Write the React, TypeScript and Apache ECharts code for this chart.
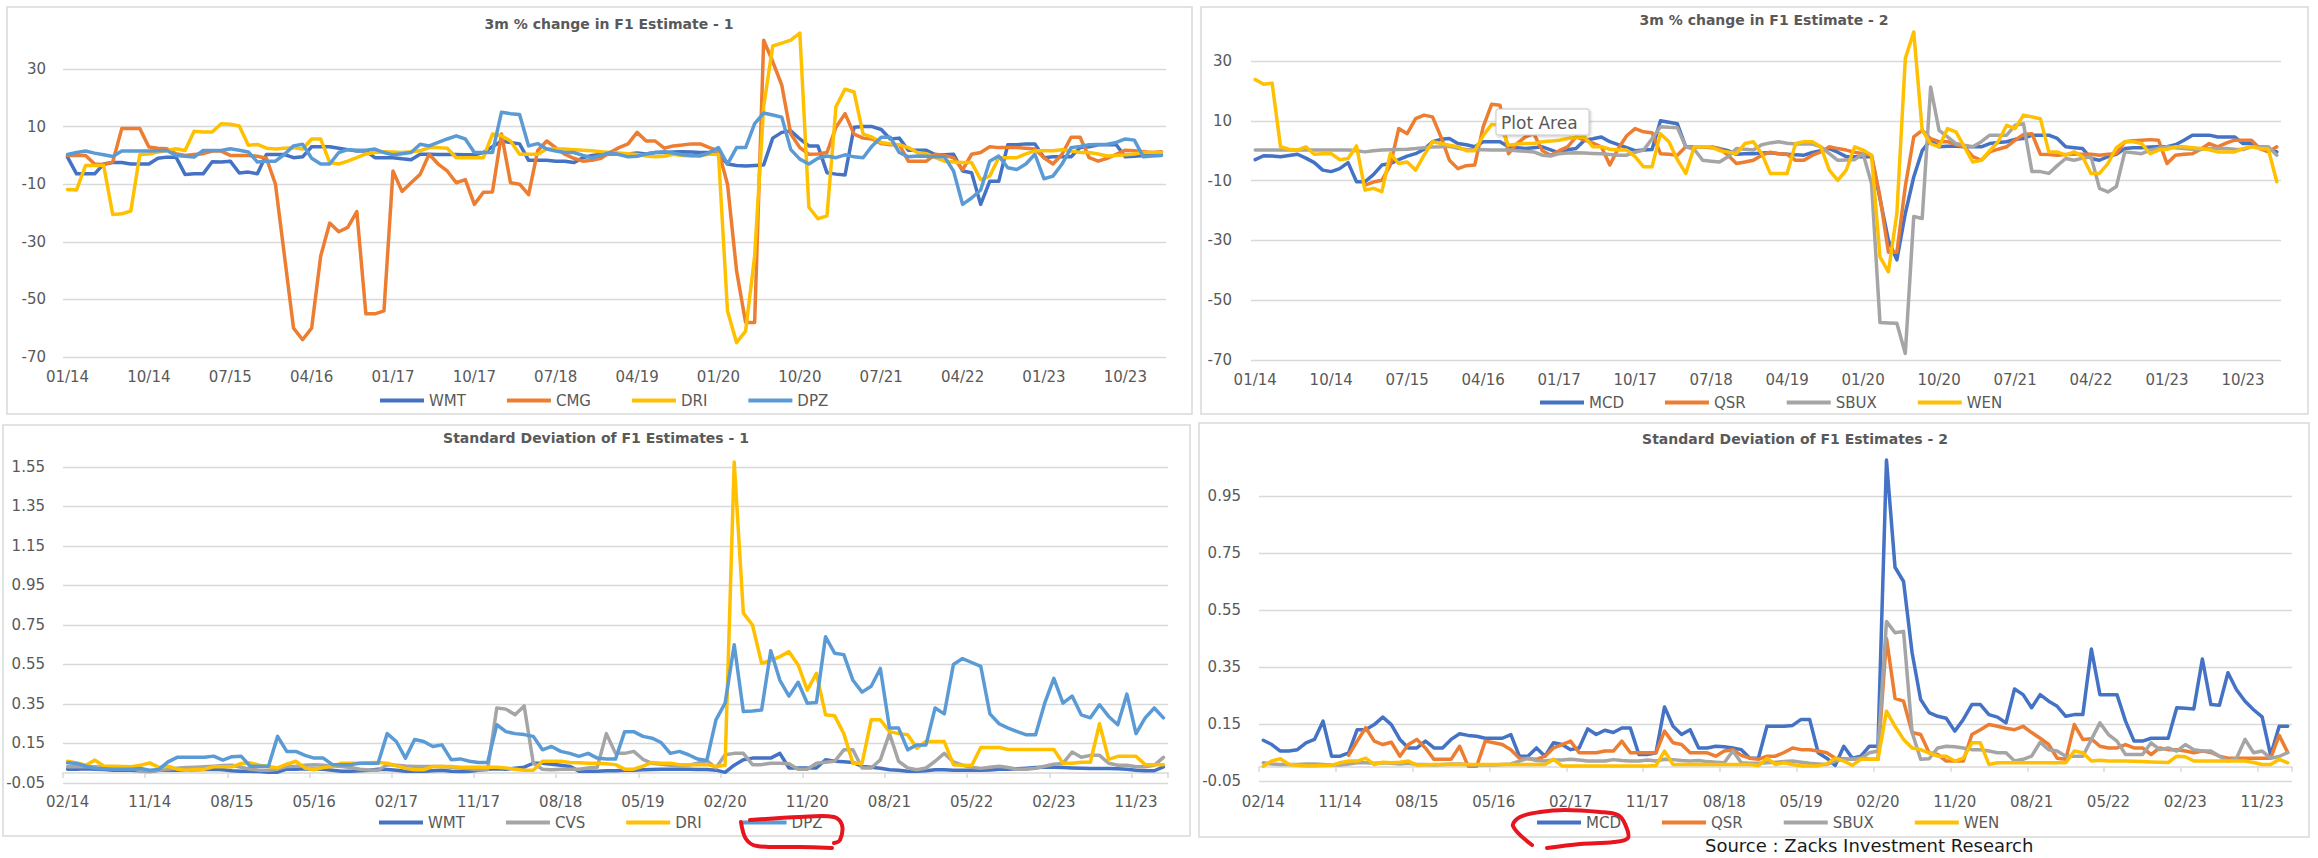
import React, { useEffect, useRef } from "react";
import * as echarts from "echarts";

// ---------- categories ----------
function monthLabels(startYear: number, startMonth: number, count: number): string[] {
  const out: string[] = [];
  for (let k = 0; k < count; k++) {
    const m0 = startMonth - 1 + k;
    const y = startYear + Math.floor(m0 / 12);
    const m = (m0 % 12) + 1;
    out.push(String(m).padStart(2, "0") + "/" + String(y % 100).padStart(2, "0"));
  }
  return out;
}
const monthsTop = monthLabels(2014, 1, 122); // 01/14 .. 02/24
const monthsBottom = monthLabels(2014, 2, 121); // 02/14 .. 02/24

// ---------- axis scales ----------
const changeTicks = [-70, -50, -30, -10, 10, 30];
const sdTicks = [-0.05, 0.15, 0.35, 0.55, 0.75, 0.95, 1.15, 1.35, 1.55];

// ---------- titles / legends ----------
const titles = [
  "3m % change in F1 Estimate - 1",
  "3m % change in F1 Estimate - 2",
  "Standard Deviation of F1 Estimates - 1",
  "Standard Deviation of F1 Estimates - 2",
];
const legend1 = ["WMT", "CMG", "DRI", "DPZ"];
const legend2 = ["MCD", "QSR", "SBUX", "WEN"];
const legend3 = ["WMT", "CVS", "DRI", "DPZ"];
const legend4 = ["MCD", "QSR", "SBUX", "WEN"];

// ---------- panel 1 : 3m % change (01/14 .. 02/24) ----------
const wmt1 = [-0.6,-6.4,-6.4,-6.4,-3,-2.5,-2.5,-3,-3,-3,-1,-0.6,-0.6,-6.6,-6.4,-6.4,-2.2,-2.3,-2,-6.1,-5.8,-6.4,
  0.3,0.3,0.3,-0.8,-0.5,3,3,3,2.5,2,1.5,1.5,-0.8,-0.8,-0.8,-1.2,-1.5,0.4,0.4,0.3,0.3,0.3,0.2,0.2,
  1,3,5,4.5,4,-1.7,-1.7,-1.7,-2,-2,-2.5,-0.8,0,0.3,0.5,0.5,0.5,0.8,0.5,1,1,1.2,1.3,1.2,1,1,0.5,
  -3,-3.5,-3.7,-3.5,-3.3,6,8,8.5,5.7,3.3,3.3,-6,-6.5,-6.8,9.8,10,10,9,5.7,6,1.8,1.8,1.8,0.2,0.2,0.4,
  -5.4,-6,-17,-9,-9,3.7,3.7,4,4,-0.8,-0.5,-0.5,-0.5,2.7,3,3.7,3.7,3.7,-0.5,-0.3,0,0.4,0.4];
const cmg1 = [0,0,0,-3,-3.2,-2.3,9.3,9.3,9.3,2.9,2.5,2.3,0.6,0,0.3,0.6,1.5,1.5,0,0,
  0,-0.3,-1,-10,-35,-60,-64,-60,-35,-23.5,-26.5,-25,-19.5,-55,-55,-54,-5.4,-12.5,-9.5,-6.6,
  0.4,-3,-5.4,-9.5,-8.4,-17,-12.8,-12.7,7.4,-9.5,-10,-13.6,1.6,5,2.7,0.4,-1,-2,-1.7,-1,
  1,2.7,4,8,5,5,2.5,3.3,3.6,4,4,2.7,1.6,-10,-40,-58,-58,40,32.6,24.4,
  7.4,2.7,0.4,0.5,1,9.8,14.5,7.4,6,5.7,4.1,3.7,3.7,-2,-2,-2,0.4,0,-0.8,-5,
  0.4,1,3,2.7,2.7,2.7,2.5,2.2,-0.8,-3,0.4,6.3,6.3,-0.8,-2,-1,0.4,1.8,1.6,1.3,
  1,1.3];
const dri1 = [-11.8,-12,-3.5,-3.5,-3.5,-20.5,-20.3,-19.3,0.3,0.5,1.2,1.7,2.3,1.7,8.4,8.1,8.1,11,10.8,10.2,
  3.5,3.8,2.5,2.2,2.5,2.7,2.2,5.7,5.7,-2.5,-3,-2,-0.8,0.5,1,1.3,1.2,1,1.3,1.6,
  2.7,2.7,2.5,-0.8,-0.8,-0.8,-0.8,7.4,6.8,5,0.4,0.4,0.4,2.2,2.2,2.2,2,1.8,1.6,1.3,
  1,0.8,0.6,0.3,-0.2,-0.5,-0.3,0.4,0,-0.2,0,0.4,0.4,-54,-65,-61,-35,17,38,39,
  40,42.5,-18,-22,-21,17,23,22,7.4,6.3,4.5,4,3.7,2.7,1,0.6,-0.8,-2,-2.3,-2.5,
  -2.5,-8.4,-7.2,-0.8,-0.8,-0.8,0.5,1.6,1.6,1.6,2,1.5,1,1,0.5,-0.2,0,0.2,0.5,1,
  1,1];
const dpz1 = [0.3,1,1.5,0.8,0.2,-0.4,1.5,1.5,1.5,1.5,1.6,1.7,0,-0.3,-0.6,1.7,1.7,1.7,2.3,1.8,
  1.2,-2.3,-2,-2,0.4,3.3,3.9,-1,-3,-3,1,2,1.8,1.8,2.2,1,0.2,0.6,1,3.9,
  3.3,4.5,5.7,6.8,5.7,1,1,1,15,14.5,14.2,3.3,4.1,2.2,1.5,1,1,0,-0.8,0,
  1,0.3,-0.5,-0.3,0.5,1,1.3,0.8,0.2,0,-0.2,1,2.7,-3,2.7,2.7,11,14.7,14,13.3,
  2,-1.3,-3,-1,-0.2,-0.8,0.2,-0.5,-0.8,3.3,6.3,6.3,1,-0.5,-0.2,-0.3,-0.5,-0.5,-5.4,-17,
  -14.8,-12,-2,-0.2,-4.3,-4.9,-3,0.4,-8.1,-7.2,-3,2.7,3.1,3.7,3.8,3.9,4.5,5.7,5.3,-0.5,
  -0.2,0];

// ---------- panel 2 : 3m % change (01/14 .. 02/24) ----------
const mcd2 = [-3,-1.7,-1.8,-2,-1.6,-1.2,-2.5,-4,-6.5,-7,
  -6,-4,-10.4,-10.4,-8,-4.8,-4.3,-3,-1.8,-1,
  0.5,3,3.8,4.1,2.4,2,1.3,3,3,3,
  1.3,1,0.7,1,1.3,0.3,-0.7,0.3,0.7,3.5,
  4,4.6,3,2,1,0,0.2,0.4,10,9.5,
  9,1.3,1.3,1.3,1.3,0.7,0,-1.2,-1,-1,
  -0.8,-0.7,-1,-1.2,-1.4,-1.5,-0.6,0,0.7,-0.5,
  -2,-2,-2,-2,-16,-30,-36.5,-21,-8.8,0,
  3.5,1.3,1.5,1.5,1.3,1.3,1.3,2.4,2.7,3,
  3.8,4.1,5.2,5.2,5.2,4.1,1.3,1,0.7,-2.6,
  -3.2,-2,-1.2,0.7,1,1,1.2,1.3,1.3,2,
  3.5,5.2,5.2,5.2,4.6,4.6,4.6,2.4,2.4,0.7,
  0.5,-0.4];
const qsr2 = [null,null,null,null,null,null,null,null,null,null,
  null,null,null,-11.5,-10.5,-9.9,-4.8,7.4,5.7,10.7,
  11.9,11.3,4.6,-3.2,-6,-5,-4.8,8,15.5,15.2,
  -1,2.4,4.6,5.7,0,-1.5,0,1.3,4.6,3.5,
  2.5,1.3,-4.8,0.7,5,7.4,6.3,6,-1,-1.2,
  -1.5,1.3,1.3,1.3,1,0.7,-1.5,-4.3,-3.8,-3.2,
  -1.5,-0.5,-1,-1.2,-3.2,-3.2,-1.5,-0.4,1.3,0.7,
  0.2,-0.5,-1,-1.5,-15.4,-34,-34,-12,4.6,6.8,
  4,3,3,2,1.3,-2,-3.2,-0.4,0.5,1.3,
  3.5,5.4,5.7,-1.2,-1.3,-1.5,-1.3,-1.2,-1.2,-1.2,
  -1.5,-1.2,-1,3,3.3,3.5,3.7,3.5,-4.3,-1.5,
  -1.2,-1,0.5,2.4,1.3,2.5,3.5,3.5,3.5,0.7,
  -0.4,1.3];
const sbux2 = [0.2,0.2,0.2,0.2,0.2,0.2,0.2,0.2,0.2,0.2,
  0.2,0.2,0,-0.4,0,0.2,0.3,0.4,0.5,0.7,
  1,1.2,1.3,1.5,0.8,0.4,0.3,0.3,0.2,0.2,
  0.2,0,-0.2,-0.4,-1.5,-1.8,-1,-0.8,-0.7,-0.8,
  -0.9,-1,-1.3,-1.5,-1.5,-0.5,0.2,4,8,7.8,
  7.7,1.3,0.5,-3.2,-3.5,-3.8,-2,0.7,0.5,0.2,
  2,2.6,3,2.5,2.2,2.2,2.2,1.3,-1,-3.2,
  -3.1,-3,-1,-11,-57.5,-57.6,-57.7,-67.8,-22,-22.7,
  21.3,6.8,4.6,2.4,1.8,1.3,3,5.2,5.2,5.2,
  8.5,9,-7,-7,-7.6,-5,-2.6,-3.2,-2.5,-2,
  -12.6,-13.8,-12,-0.4,-0.7,-1,0.2,0.8,1.3,1,
  0.7,0.5,0.4,0.7,0.7,0.7,0.5,0.4,1.3,1.3,
  1.3,-1.5];
const wen2 = [23.8,22.2,22.6,1.3,0.5,0.2,1.3,-1.2,-1,-1,
  -3,-2.6,1.6,-13.2,-12.6,-13.7,-1,-4.3,-3.8,-6.5,
  -1.5,3,2.4,1.8,1.3,0,0,5,8.8,8.5,
  1.8,2.2,2.4,2.4,3,3.2,3.5,4.1,4.4,4.6,
  1.3,1.3,0.5,0.2,0.2,-2,-5.4,-5.4,5.7,3,
  -3,-7.6,1.3,1.3,1.3,0,-0.4,-1,2.4,3,
  -1,-7.6,-7.6,-7.6,2.4,3,3,1.3,-6.5,-9.9,
  -6.5,1.3,0.2,-1.5,-35.5,-40.5,-21,30.8,39.7,6.8,
  2.4,1.3,7.4,6.3,1.3,-3.8,-3.2,0,3,8.5,
  7.4,11.9,11.3,10.7,-0.4,-0.4,-1.5,-0.4,-2,-7.6,
  -7.6,-4.3,1,3,3,2.4,-1,0.2,0.5,1.3,
  1.3,1,0.7,0.3,-0.4,-0.4,-0.4,0.7,1.3,0.7,
  0.5,-10.4];

// ---------- panel 3 : std dev (02/14 .. 02/24) ----------
const wmt3 = [0.02,0.02,0.022,0.02,0.018,0.015,0.015,0.015,0.012,0.01,
  0.015,0.015,0.015,0.016,0.017,0.018,0.02,0.017,0.012,0.01,
  0.01,0.008,0.005,0.005,0.02,0.02,0.022,0.02,0.02,0.015,
  0.01,0.01,0.012,0.015,0.02,0.018,0.015,0.01,0.01,0.01,
  0.012,0.015,0.01,0.008,0.01,0.015,0.02,0.022,0.02,0.025,
  0.03,0.05,0.05,0.045,0.04,0.034,0.01,0.01,0.01,0.012,
  0.012,0.015,0.015,0.017,0.018,0.02,0.02,0.02,0.02,0.018,
  0.018,0.015,0.004,0.04,0.068,0.076,0.076,0.076,0.1,0.026,
  0.026,0.026,0.026,0.068,0.06,0.058,0.054,0.034,0.03,0.025,
  0.017,0.015,0.01,0.01,0.012,0.017,0.017,0.015,0.014,0.015,
  0.015,0.016,0.02,0.02,0.022,0.025,0.028,0.03,0.03,0.028,
  0.026,0.025,0.024,0.024,0.024,0.022,0.02,0.015,0.012,0.012,
  0.032];
const cvs3 = [0.032,0.032,0.032,0.032,0.03,0.03,0.03,0.028,0.01,0.007,
  0.015,0.02,0.025,0.029,0.03,0.032,0.035,0.038,0.04,0.03,
  0.02,0.015,0.014,0.02,0.034,0.035,0.04,0.043,0.04,0.036,
  0.034,0.028,0.02,0.016,0.014,0.043,0.04,0.036,0.034,0.034,
  0.034,0.034,0.03,0.026,0.022,0.017,0.017,0.33,0.324,0.295,
  0.34,0.05,0.02,0.017,0.02,0.02,0.02,0.026,0.03,0.2,
  0.1,0.1,0.11,0.07,0.05,0.045,0.04,0.035,0.04,0.05,
  0.064,0.026,0.093,0.1,0.1,0.043,0.043,0.05,0.05,0.047,
  0.02,0.02,0.05,0.055,0.06,0.118,0.118,0.026,0.026,0.067,
  0.2,0.06,0.026,0.017,0.026,0.06,0.1,0.057,0.04,0.03,
  0.024,0.03,0.035,0.028,0.02,0.02,0.025,0.035,0.045,0.049,
  0.107,0.08,0.09,0.09,0.05,0.04,0.04,0.032,0.032,0.04,
  0.08];
const dri3 = [0.06,0.052,0.04,0.066,0.035,0.035,0.033,0.032,0.04,0.052,
  0.029,0.035,0.02,0.015,0.018,0.02,0.032,0.032,0.032,0.049,
  0.052,0.04,0.034,0.026,0.045,0.06,0.026,0.017,0.028,0.034,
  0.05,0.05,0.05,0.052,0.054,0.05,0.037,0.025,0.017,0.017,
  0.034,0.034,0.034,0.03,0.03,0.03,0.03,0.03,0.026,0.02,
  0.014,0.014,0.06,0.06,0.06,0.054,0.052,0.05,0.05,0.048,
  0.043,0.02,0.02,0.035,0.054,0.05,0.05,0.043,0.043,0.043,
  0.043,0.034,0.04,1.575,0.81,0.75,0.556,0.57,0.59,0.615,
  0.548,0.42,0.505,0.295,0.29,0.2,0.05,0.05,0.27,0.27,
  0.21,0.2,0.194,0.126,0.16,0.16,0.16,0.043,0.04,0.038,
  0.13,0.13,0.13,0.12,0.12,0.12,0.12,0.12,0.12,0.05,
  0.05,0.055,0.055,0.25,0.07,0.085,0.085,0.085,0.043,0.043,
  0.043];
const dpz3 = [0.052,0.049,0.035,0.024,0.022,0.02,0.02,0.02,0.024,0.015,
  0.019,0.057,0.08,0.08,0.08,0.08,0.086,0.066,0.083,0.086,
  0.035,0.035,0.035,0.186,0.11,0.11,0.09,0.076,0.076,0.043,
  0.043,0.043,0.05,0.05,0.05,0.2,0.16,0.076,0.17,0.16,
  0.135,0.143,0.068,0.072,0.06,0.054,0.054,0.245,0.21,0.2,
  0.195,0.186,0.118,0.135,0.11,0.1,0.085,0.1,0.076,0.071,
  0.071,0.21,0.21,0.186,0.177,0.155,0.1,0.11,0.093,0.071,
  0.064,0.27,0.354,0.65,0.312,0.315,0.32,0.62,0.47,0.39,
  0.46,0.354,0.357,0.69,0.607,0.6,0.47,0.41,0.44,0.53,
  0.228,0.228,0.118,0.143,0.143,0.33,0.3,0.55,0.58,0.56,
  0.54,0.3,0.25,0.228,0.21,0.194,0.194,0.354,0.48,0.354,
  0.39,0.295,0.28,0.346,0.287,0.245,0.4,0.2,0.28,0.33,
  0.28];

// ---------- panel 4 : std dev (02/14 .. 02/24) ----------
const mcd4 = [0.093,0.078,0.055,0.055,0.06,0.084,0.096,0.16,0.037,0.037,
  0.049,0.13,0.13,0.148,0.174,0.148,0.096,0.066,0.066,0.09,
  0.066,0.066,0.096,0.116,0.11,0.107,0.1,0.1,0.1,0.113,
  0.037,0.037,0.066,0.037,0.084,0.078,0.06,0.066,0.133,0.113,
  0.128,0.12,0.136,0.136,0.043,0.043,0.049,0.21,0.142,0.113,
  0.13,0.066,0.066,0.072,0.07,0.066,0.06,0.03,0.03,0.142,
  0.142,0.142,0.145,0.166,0.166,0.049,0.03,0.005,0.072,0.03,
  0.037,0.072,0.072,1.076,0.7,0.65,0.4,0.236,0.19,0.177,
  0.17,0.125,0.166,0.218,0.218,0.183,0.174,0.154,0.273,0.253,
  0.207,0.253,0.23,0.212,0.177,0.183,0.183,0.413,0.253,0.253,
  0.253,0.16,0.09,0.09,0.1,0.1,0.1,0.207,0.205,0.203,
  0.378,0.218,0.216,0.33,0.27,0.23,0.2,0.175,0.04,0.142,
  0.142];
const qsr4 = [null,null,null,null,null,null,null,null,null,null,
  0.04,0.09,0.137,0.09,0.078,0.086,0.037,0.078,0.096,0.066,
  0.026,0.026,0.026,0.072,0.002,0.002,0.09,0.084,0.078,0.06,
  0.03,0.028,0.026,0.037,0.066,0.078,0.09,0.049,0.049,0.049,
  0.055,0.055,0.09,0.049,0.049,0.049,0.049,0.125,0.084,0.078,
  0.049,0.049,0.049,0.037,0.055,0.06,0.04,0.03,0.026,0.037,
  0.037,0.05,0.066,0.06,0.06,0.055,0.049,0.03,0.028,0.026,
  0.03,0.026,0.026,0.45,0.24,0.23,0.12,0.113,0.049,0.043,
  0.02,0.02,0.02,0.113,0.13,0.148,0.142,0.135,0.13,0.142,
  0.12,0.1,0.078,0.03,0.026,0.148,0.096,0.098,0.072,0.066,
  0.066,0.078,0.066,0.066,0.043,0.066,0.06,0.06,0.055,0.049,
  0.055,0.05,0.037,0.03,0.03,0.03,0.03,0.03,0.03,0.11,
  0.05];
const sbux4 = [0.014,0.01,0.008,0.008,0.008,0.01,0.01,0.008,0.006,0.006,
  0.01,0.014,0.014,0.012,0.014,0.012,0.01,0.012,0.008,0.008,
  0.006,0.008,0.01,0.01,0.008,0.006,0.006,0.006,0.008,0.01,
  0.02,0.03,0.022,0.02,0.024,0.024,0.026,0.024,0.02,0.02,
  0.02,0.025,0.022,0.02,0.02,0.024,0.02,0.026,0.025,0.022,
  0.02,0.022,0.018,0.016,0.014,0.055,0.014,0.012,0.012,0.014,
  0.016,0.018,0.02,0.016,0.012,0.01,0.008,0.02,0.026,0.026,
  0.03,0.049,0.055,0.51,0.47,0.475,0.12,0.026,0.028,0.066,
  0.072,0.07,0.066,0.06,0.06,0.055,0.049,0.049,0.02,0.026,
  0.037,0.086,0.06,0.055,0.037,0.037,0.037,0.096,0.154,0.113,
  0.09,0.043,0.043,0.043,0.084,0.06,0.066,0.055,0.078,0.06,
  0.055,0.055,0.037,0.02,0.03,0.096,0.049,0.055,0.03,0.036,
  0.05];
const wen4 = [0.002,0.02,0.028,0.008,0.005,0.003,0.003,0.004,0.005,0.014,
  0.02,0.02,0.03,0.008,0.016,0.014,0.016,0.02,0.006,0.007,
  0.008,0.008,0.008,0.008,0.008,0.008,0.008,0.008,0.008,0.008,
  0.008,0.008,0.008,0.008,0.026,0.003,0.003,0.003,0.003,0.003,
  0.003,0.003,0.003,0.003,0.003,0.003,0.004,0.055,0.008,0.008,
  0.008,0.008,0.008,0.008,0.008,0.008,0.008,0.008,0.004,0.03,
  0.008,0.014,0.008,0.003,0.003,0.003,0.01,0.03,0.02,0.005,
  0.026,0.026,0.026,0.195,0.142,0.096,0.066,0.06,0.049,0.037,
  0.037,0.02,0.03,0.084,0.084,0.008,0.014,0.014,0.014,0.014,
  0.014,0.014,0.014,0.014,0.014,0.055,0.049,0.02,0.023,0.02,
  0.02,0.02,0.019,0.018,0.017,0.016,0.015,0.037,0.035,0.02,
  0.02,0.02,0.02,0.02,0.02,0.02,0.015,0.008,0.008,0.026,
  0.014];

// ---------- styling ----------
const FONT = "'DejaVu Sans', sans-serif";
const TXT = "#595959";
const GRIDC = "#d9d9d9";
const COL: Record<string, string> = {
  WMT: "#4472C4", CMG: "#ED7D31", DRI: "#FFC000", DPZ: "#5B9BD5", CVS: "#A5A5A5",
  MCD: "#4472C4", QSR: "#ED7D31", SBUX: "#A5A5A5", WEN: "#FFC000",
};

const panels = [
  { grid: { left: 63, top: 25.8, width: 1103, height: 331.2 }, cats: monthsTop, min: changeTicks[0], max: 45, interval: 20, yMargin: 17, xMargin: 12, zero: false,
    series: [["WMT", wmt1], ["CMG", cmg1], ["DRI", dri1], ["DPZ", dpz1]] },
  { grid: { left: 1251, top: 25.1, width: 1030, height: 334.9 }, cats: monthsTop, min: changeTicks[0], max: 42, interval: 20, yMargin: 19, xMargin: 12, zero: false,
    series: [["MCD", mcd2], ["QSR", qsr2], ["SBUX", sbux2], ["WEN", wen2]] },
  { grid: { left: 63, top: 457.1, width: 1105, height: 325.9 }, cats: monthsBottom, min: sdTicks[0], max: 1.6, interval: 0.2, yMargin: 18, xMargin: 11, zero: true,
    series: [["WMT", wmt3], ["CVS", cvs3], ["DRI", dri3], ["DPZ", dpz3]] },
  { grid: { left: 1259, top: 453.25, width: 1033, height: 327.75 }, cats: monthsBottom, min: sdTicks[0], max: 1.1, interval: 0.2, yMargin: 18, xMargin: 13, zero: true,
    series: [["MCD", mcd4], ["QSR", qsr4], ["SBUX", sbux4], ["WEN", wen4]] },
];

function buildOption() {
  const grid: any[] = [];
  const xAxis: any[] = [];
  const yAxis: any[] = [];
  const series: any[] = [];
  panels.forEach((p, i) => {
    grid.push({ ...p.grid, containLabel: false });
    xAxis.push({
      type: "category", gridIndex: i, data: p.cats, boundaryGap: true,
      axisLine: { show: false, onZero: false }, axisTick: { show: false }, splitLine: { show: false },
      axisLabel: { interval: 8, color: TXT, fontFamily: FONT, fontSize: 15, margin: p.xMargin },
    });
    yAxis.push({
      type: "value", gridIndex: i, min: p.min, max: p.max, interval: p.interval,
      axisLine: { show: false }, axisTick: { show: false },
      splitLine: { show: true, showMaxLine: false, lineStyle: { color: GRIDC, width: 1.3 } },
      axisLabel: { color: TXT, fontFamily: FONT, fontSize: 15, margin: p.yMargin, showMaxLabel: false },
    });
  });
  panels.forEach((p, i) => {
    if (!p.zero) return;
    xAxis.push({
      type: "category", gridIndex: i, data: p.cats, boundaryGap: true, position: "bottom",
      axisLine: { show: true, onZero: true, lineStyle: { color: GRIDC, width: 1.5 } },
      axisTick: { show: true, interval: 8, length: 5, lineStyle: { color: GRIDC, width: 1.5 } },
      axisLabel: { show: false }, splitLine: { show: false },
    });
  });
  panels.forEach((p, i) => {
    p.series.forEach(([name, data]: any, k: number) => {
      series.push({
        type: "line", name, xAxisIndex: i, yAxisIndex: i, data,
        showSymbol: false, symbol: "none", connectNulls: false, silent: true,
        lineStyle: { width: 3.5, color: COL[name], cap: "round", join: "round" },
        itemStyle: { color: COL[name] },
        emphasis: { disabled: true }, z: 2 + k,
      });
    });
  });
  const legendBase = {
    orient: "horizontal", icon: "rect", itemWidth: 44, itemHeight: 4, itemGap: 41, padding: 0,
    selectedMode: false, textStyle: { color: TXT, fontFamily: FONT, fontSize: 15 },
  };
  const legend = [
    { ...legendBase, data: legend1, left: 380, top: 393 },
    { ...legendBase, data: legend2, left: 1540, top: 395 },
    { ...legendBase, data: legend3, left: 379, top: 815 },
    { ...legendBase, data: legend4, left: 1537, top: 815 },
  ];
  const borders = [
    [7, 7, 1185, 407], [1201, 7, 1107, 407], [3, 425, 1187, 411], [1199, 423, 1110, 414],
  ].map(([x, y, w, h]) => ({
    type: "rect", silent: true, z: -1,
    shape: { x, y, width: w, height: h },
    style: { fill: "none", stroke: GRIDC, lineWidth: 1.5 },
  }));
  const titlePos = [[609, 23.5], [1764, 20], [596, 438], [1795, 439]];
  const titleEls = titles.map((t, i) => ({
    type: "text", silent: true, x: titlePos[i][0], y: titlePos[i][1],
    style: { text: t, textAlign: "center", textVerticalAlign: "middle", fill: TXT, font: "bold 14px 'DejaVu Sans', sans-serif" },
  }));
  const red = "#e8141e";
  const redStyle = { stroke: red, lineWidth: 4, fill: null, lineCap: "round", lineJoin: "round" };
  const marks = [
    { type: "polyline", silent: true, z: 50, shape: { smooth: 0.35, points: [[750, 820], [800, 817], [834, 817], [842, 825], [840, 840], [834, 843]] }, style: redStyle },
    { type: "polyline", silent: true, z: 50, shape: { smooth: 0.35, points: [[741, 822], [746, 839], [757, 846], [800, 847], [832, 848]] }, style: redStyle },
    { type: "polyline", silent: true, z: 50, shape: { smooth: 0.35, points: [[1532, 845], [1513, 826], [1520, 817], [1540, 812], [1565, 810], [1600, 812], [1618, 815], [1625, 824], [1628, 838], [1614, 842], [1580, 844], [1547, 848]] }, style: redStyle },
  ];
  const tooltipBox = [
    { type: "rect", silent: true, z: 60, shape: { x: 1496, y: 109, width: 93, height: 26, r: 2 },
      style: { fill: "#ffffff", stroke: "#c8c8c8", lineWidth: 1, shadowBlur: 3, shadowColor: "rgba(0,0,0,0.25)", shadowOffsetX: 1, shadowOffsetY: 1 } },
    { type: "text", silent: true, z: 61, x: 1501, y: 122.5,
      style: { text: "Plot Area", textVerticalAlign: "middle", fill: TXT, font: "17px 'DejaVu Sans', sans-serif" } },
  ];
  const source = {
    type: "text", silent: true, z: 10, x: 1705, y: 845,
    style: { text: "Source : Zacks Investment Research", textVerticalAlign: "middle", fill: "#1a1a1a", font: "18px 'DejaVu Sans', sans-serif" },
  };
  return {
    animation: false,
    backgroundColor: "#ffffff",
    grid, xAxis, yAxis, series, legend,
    graphic: { elements: [...borders, ...titleEls, ...marks, ...tooltipBox, source] },
  };
}

export default function App() {
  const ref = useRef<HTMLDivElement | null>(null);
  useEffect(() => {
    if (!ref.current) return;
    const chart = echarts.init(ref.current, null, { renderer: "svg" });
    chart.setOption(buildOption() as any);
    return () => chart.dispose();
  }, []);
  return (
    <div
      ref={ref}
      style={{ position: "absolute", left: 0, top: 0, width: 2318, height: 858, background: "#ffffff" }}
    />
  );
}
